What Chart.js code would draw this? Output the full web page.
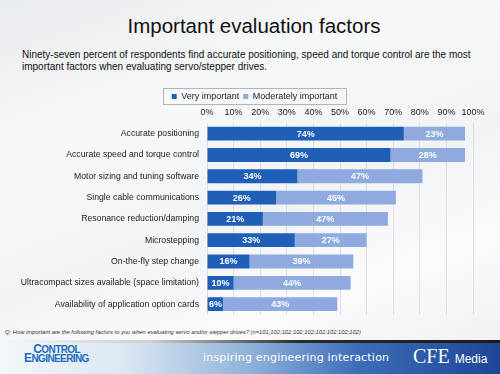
<!DOCTYPE html>
<html>
<head>
<meta charset="utf-8">
<script src="https://cdn.jsdelivr.net/npm/chart.js@4"></script>
<style>
  html, body { margin: 0; padding: 0; }
  body {
    width: 500px; height: 374px; overflow: hidden; position: relative;
    font-family: "Liberation Sans", Arial, sans-serif;
    background: linear-gradient(160deg, #e9ecef 0%, #f7f8f9 30%, #f2f3f5 55%, #fbfbfc 75%, #eceef1 100%);
  }
  #title {
    position: absolute; left: 0; top: 14px; width: 508px; text-align: center;
    font-size: 20.5px; color: #111;
  }
  #sub {
    position: absolute; left: 22px; top: 49px; width: 460px;
    font-size: 10px; line-height: 11.5px; color: #111;
  }
  #c { position: absolute; left: 0; top: 83px; }
  #note {
    position: absolute; left: 5px; top: 329px; font-size: 5.8px; font-style: italic; color: #333;
  }
  #banner {
    position: absolute; left: 0; top: 343px; width: 500px; height: 31px;
    background: linear-gradient(90deg, #f4f7fa 0%, #dbe7f2 25%, #8fb2d9 50%, #3c6cb8 72%, #1d4696 100%);
  }
  #bline {
    position: absolute; left: 0; top: 340px; width: 500px; height: 3px;
    background: linear-gradient(90deg, rgba(40,40,40,0) 0%, rgba(40,40,40,0.2) 30%, #2a2a2a 60%, #1a1a1a 100%);
  }
  #logo {
    position: absolute; left: 24px; top: 345px; color: #1a6cc0; font-weight: bold;
    font-size: 10px; line-height: 9px; letter-spacing: -0.6px; text-align: center;
  }
  #tag {
    position: absolute; left: 203px; top: 351px; color: #fff; font-size: 11px; letter-spacing: 0.2px;
    font-family: "DejaVu Sans", sans-serif;
  }
  #cfe { position: absolute; left: 413px; top: 345px; color: #fff; font-size: 20px; font-family: "Liberation Serif", serif; }
  #cfe span { font-size: 12px; font-family: "Liberation Sans", sans-serif; }
</style>
</head>
<body>
<div id="title">Important evaluation factors</div>
<div id="sub">Ninety-seven percent of respondents find accurate positioning, speed and torque control are the most important factors when evaluating servo/stepper drives.</div>
<canvas id="c" width="500" height="245"></canvas>
<div id="note">Q: How important are the following factors to you when evaluating servo and/or stepper drives? (n=101;102;102;102;102;102;102;102;102)</div>
<div id="bline"></div>
<div id="banner"></div>
<div id="logo"><span style="font-size:12px">C</span>ONTROL<br><span style="font-size:12px">E</span>NGINEERING<span style="font-size:4px">.</span></div>
<div id="tag">inspiring engineering interaction</div>
<div id="cfe">CFE <span>Media</span></div>
<script>
const categories = [
  "Accurate positioning",
  "Accurate speed and torque control",
  "Motor sizing and tuning software",
  "Single cable communications",
  "Resonance reduction/damping",
  "Microstepping",
  "On-the-fly step change",
  "Ultracompact sizes available (space limitation)",
  "Availability of application option cards"
];
const veryImportant = [74, 69, 34, 26, 21, 33, 16, 10, 6];
const moderatelyImportant = [23, 28, 47, 45, 47, 27, 39, 44, 43];
const xTicks = [0, 10, 20, 30, 40, 50, 60, 70, 80, 90, 100];

const FONT = "'Liberation Sans', Arial, sans-serif";

// white % labels in the middle of each segment
const barLabels = {
  id: "barLabels",
  afterDatasetsDraw(chart) {
    const ctx = chart.ctx;
    ctx.save();
    ctx.font = "bold 9px " + FONT;
    ctx.fillStyle = "#fff";
    ctx.textAlign = "center";
    ctx.textBaseline = "middle";
    chart.data.datasets.forEach((ds, i) => {
      chart.getDatasetMeta(i).data.forEach((bar, j) => {
        let x = (bar.x + bar.base) / 2;
        if (bar.x - bar.base < 18) x = bar.base + 8;
        ctx.fillText(ds.data[j] + "%", x, bar.y + 0.5);
      });
    });
    ctx.restore();
  }
};

// legend sits centred over the plot area (not the whole canvas) in a thin frame
const legendFrame = {
  id: "legendFrame",
  afterLayout(chart) {
    const lg = chart.legend;
    if (!lg) return;
    lg.left = 36;
    lg.right = chart.chartArea.right;
    lg.top += 5;
    lg.bottom += 5;
  },
  afterDraw(chart) {
    const lg = chart.legend;
    if (!lg || !lg.legendHitBoxes.length) return;
    const boxes = lg.legendHitBoxes;
    const x0 = boxes[0].left - 9;
    const last = boxes[boxes.length - 1];
    const x1 = last.left + last.width + 8;
    const y0 = boxes[0].top - 4;
    const ctx = chart.ctx;
    ctx.save();
    ctx.strokeStyle = "#b5b5b5";
    ctx.lineWidth = 1;
    ctx.strokeRect(Math.round(x0) + 0.5, Math.round(y0) + 0.5, Math.round(x1 - x0), 16);
    ctx.restore();
  }
};

new Chart(document.getElementById("c"), {
  type: "bar",
  data: {
    labels: categories,
    datasets: [
      {
        label: "Very important",
        data: veryImportant,
        backgroundColor: "#1f5fb8",
        borderWidth: 0,
        categoryPercentage: 1,
        barPercentage: 0.65
      },
      {
        label: "Moderately important",
        data: moderatelyImportant,
        backgroundColor: "#8eaadf",
        borderWidth: 0,
        categoryPercentage: 1,
        barPercentage: 0.65
      }
    ]
  },
  options: {
    indexAxis: "y",
    responsive: false,
    animation: false,
    layout: { padding: { left: 0, right: 27, top: 0, bottom: 5 } },
    plugins: {
      legend: {
        position: "top",
        align: "center",
        labels: {
          font: { family: FONT, size: 9 },
          color: "#222",
          boxWidth: 5,
          boxHeight: 5,
          padding: 4
        }
      },
      tooltip: { enabled: false }
    },
    scales: {
      x: {
        position: "top",
        stacked: true,
        min: 0,
        max: 100,
        afterBuildTicks: s => { s.ticks = xTicks.map(v => ({ value: v })); },
        afterFit: s => { s.height = 17; },
        ticks: {
          font: { family: FONT, size: 9 },
          color: "#222",
          padding: 5,
          maxRotation: 0,
          callback: v => v + "%"
        },
        grid: { color: "rgba(190,190,190,0.45)", drawTicks: false },
        border: { display: false }
      },
      y: {
        stacked: true,
        afterFit: s => { s.width = 207; },
        ticks: {
          font: { family: FONT, size: 8.7 },
          color: "#222",
          padding: 8
        },
        grid: { display: false, drawTicks: false },
        border: { display: false }
      }
    }
  },
  plugins: [barLabels, legendFrame]
});
</script>
</body>
</html>
